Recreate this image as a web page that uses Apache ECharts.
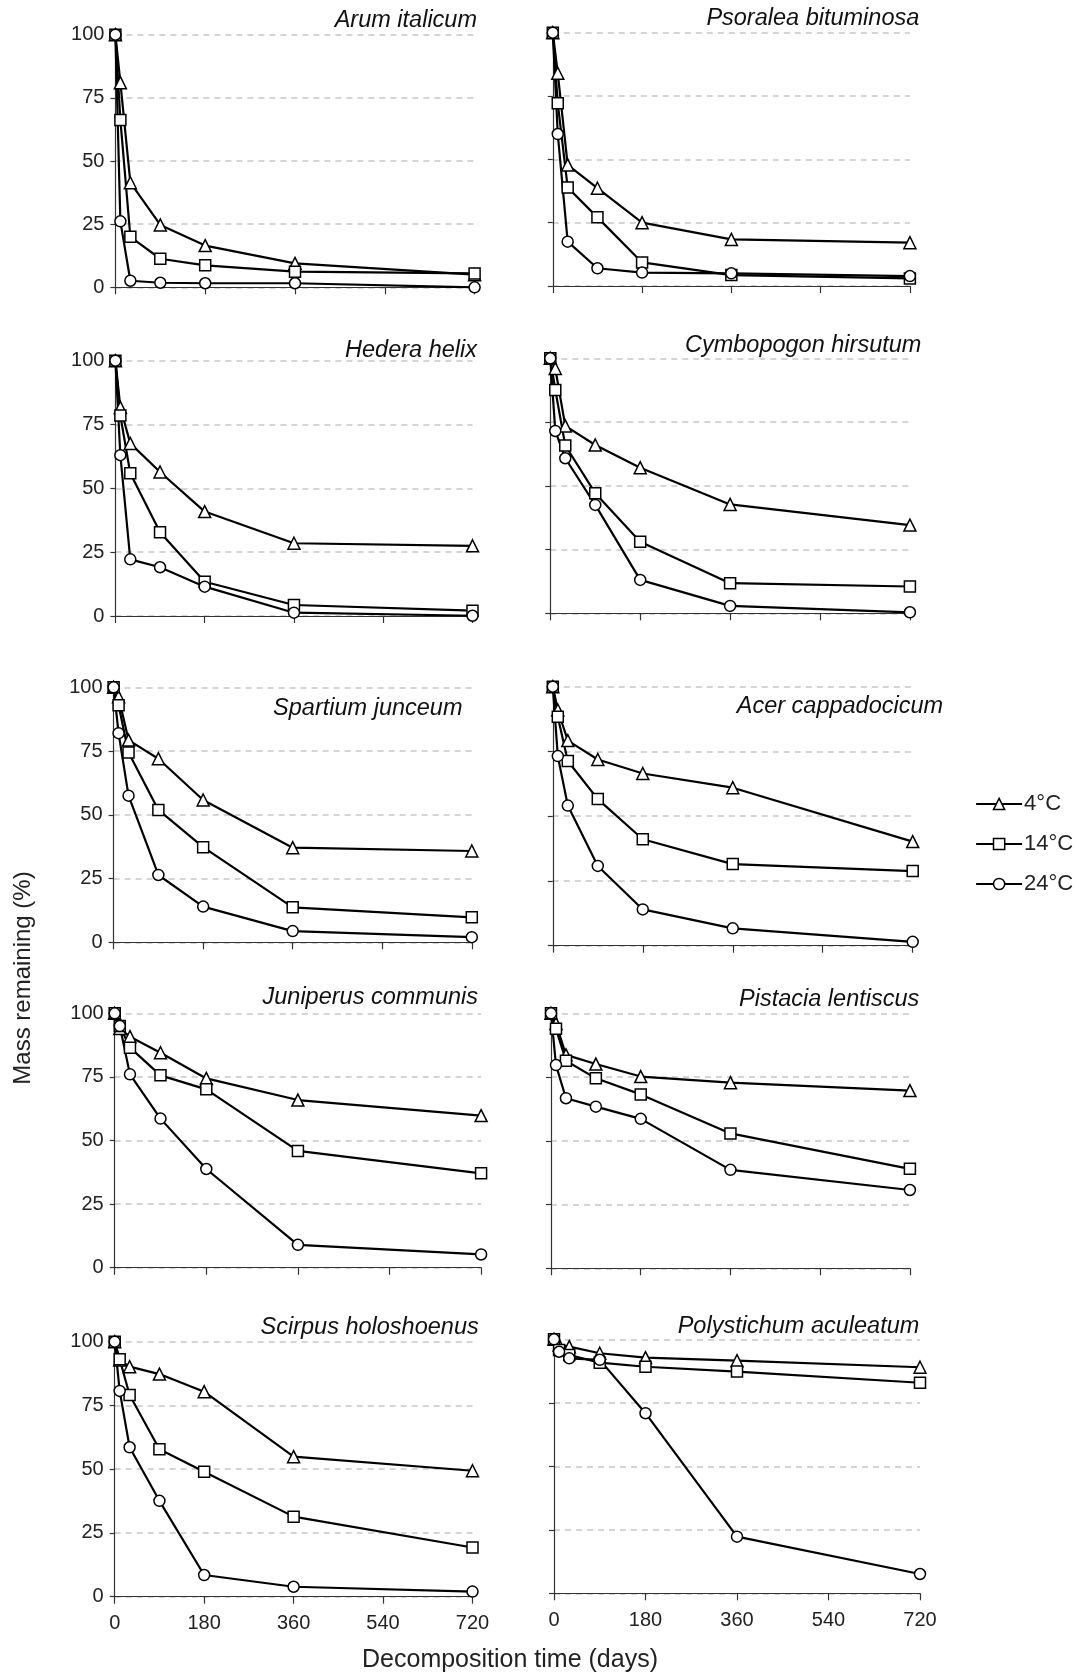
<!DOCTYPE html>
<html>
<head>
<meta charset="utf-8">
<script src="https://cdn.jsdelivr.net/npm/echarts@6/dist/echarts.min.js"></script>
<style>
  html, body { margin: 0; padding: 0; background: #fff; }
  #chart { width: 1079px; height: 1675px; }
</style>
</head>
<body>
<div id="chart"></div>
<script>
// sampling days
const days = [0, 10, 30, 90, 180, 360, 720];
const species = [
  'Arum italicum', 'Psoralea bituminosa',
  'Hedera helix', 'Cymbopogon hirsutum',
  'Spartium junceum', 'Acer cappadocicum',
  'Juniperus communis', 'Pistacia lentiscus',
  'Scirpus holoshoenus', 'Polystichum aculeatum'
];
const temps = ['4°C', '14°C', '24°C'];

// mass remaining (%) — one row per species, same order as above
const mass4C = [
  [100, 81, 41.4, 24.7, 16.5, 9.5, 5],
  [100, 84, 47.8, 38.6, 25, 18.4, 17.1],
  [100, 81.7, 67.6, 56.4, 40.9, 28.5, 27.5],
  [100, 96, 73.5, 66, 57.1, 42.7, 34.6],
  [100, 96.3, 79.3, 72, 55.8, 37.1, 35.8],
  [100, 91, 79.2, 71.9, 66.5, 61, 40.2],
  [100, 94, 90.8, 84.5, 74.4, 65.9, 59.8],
  [100, 96, 83.7, 80.1, 75.2, 72.8, 69.7],
  [100, 92.8, 90.2, 87.3, 80.4, 54.9, 49.4],
  [100, 97.8, 97.1, 94.5, 92.8, 91.6, 89]
];
const mass14C = [
  [100, 66.2, 20, 11.3, 8.7, 6.2, 5.5],
  [100, 72.1, 38.9, 27.1, 9.3, 4.3, 3],
  [100, 78.5, 55.9, 32.8, 13.4, 4.3, 2.1],
  [100, 87.6, 65.8, 47.1, 28.1, 11.8, 10.5],
  [100, 93, 74.4, 51.9, 37.3, 13.7, 9.8],
  [100, 88.4, 71.3, 56.6, 41.1, 31.5, 28.8],
  [100, 95, 86.5, 75.6, 70.1, 45.9, 37.1],
  [100, 93.9, 81.4, 74.5, 68.2, 52.9, 39],
  [100, 93.1, 79.1, 57.8, 49, 31.4, 19.3],
  [100, 95.8, 93.8, 90.8, 89.2, 87.3, 82.9]
];
const mass24C = [
  [100, 26.1, 2.6, 1.8, 1.6, 1.6, 0],
  [100, 60, 17.5, 7, 5.3, 5, 3.9],
  [100, 63, 22.2, 19.1, 11.5, 1.3, 0.1],
  [100, 71.5, 60.8, 42.5, 13.1, 2.9, 0.4],
  [100, 82, 57.5, 26.4, 14, 4.4, 2],
  [100, 73.2, 54.1, 30.8, 14, 6.7, 1.5],
  [100, 95, 76, 58.6, 38.8, 9, 5.2],
  [100, 79.7, 66.7, 63.4, 58.6, 38.6, 30.7],
  [100, 80.7, 58.6, 37.6, 8.5, 3.9, 2],
  [100, 95.1, 92.5, 91.9, 70.9, 22.3, 7.6]
];

// layout of each panel: plot box [left, top, width, height], title [right edge, centre y]
const boxes = [
  [115.4, 34.7, 359.2, 252.6], [552.8, 32.7, 357.1, 253.3],
  [115.4, 360.7, 357.1, 255.3], [550.3, 358.3, 359.6, 255],
  [113.6, 687.3, 358.2, 255], [552.8, 686.7, 359.9, 259],
  [114.7, 1013.3, 366.4, 254.4], [551, 1013.3, 358.9, 255],
  [114.7, 1341.7, 357.8, 255], [554, 1339.3, 366, 254]
];
const titlePos = [
  [477, 20.5], [919.3, 18.5],
  [477, 350], [921.4, 345.5],
  [462.5, 708.5], [943.1, 706.5],
  [478, 997.5], [919.3, 999.5],
  [478.7, 1327.5], [919.3, 1326.5]
];

const FONT = 'Liberation Sans, Arial, sans-serif';
const W = 1079;
const symbols = ['triangle', 'rect', 'circle'];
const allMass = [mass4C, mass14C, mass24C];

const chart = echarts.init(document.getElementById('chart'));

const grid = [], xAxis = [], yAxis = [], title = [], series = [];
boxes.forEach((b, i) => {
  const leftCol = i % 2 === 0;
  const bottomRow = i >= 8;
  grid.push({ left: b[0], top: b[1], width: b[2], height: b[3], containLabel: false });
  xAxis.push({
    gridIndex: i, type: 'value', min: 0, max: 720, interval: 180,
    axisLine: { lineStyle: { color: '#333', width: 1.2 } },
    axisTick: { show: true, length: 7, lineStyle: { color: '#333', width: 1.2 } },
    axisLabel: { show: bottomRow, fontSize: 20, color: '#222', fontFamily: FONT, margin: 17 },
    splitLine: { show: false }
  });
  yAxis.push({
    gridIndex: i, type: 'value', min: 0, max: 100, interval: 25,
    axisLine: { show: true, lineStyle: { color: '#333', width: 1.2 } },
    axisTick: { show: true, length: 5, lineStyle: { color: '#333', width: 1.2 } },
    axisLabel: { show: leftCol, fontSize: 20, color: '#222', fontFamily: FONT, margin: 11 },
    splitLine: { show: true, lineStyle: { color: '#c8c8c8', width: 1.5, type: [6, 5] } }
  });
  title.push({
    text: species[i],
    right: W - titlePos[i][0],
    top: titlePos[i][1] - 14,
    padding: 0,
    textStyle: {
      fontFamily: FONT, fontStyle: 'italic', fontWeight: 'normal',
      fontSize: 23.5, lineHeight: 28, color: '#111'
    }
  });
  temps.forEach((t, k) => {
    series.push({
      name: t,
      type: 'line',
      xAxisIndex: i, yAxisIndex: i,
      data: days.map((d, j) => [d, allMass[k][i][j]]),
      symbol: symbols[k],
      symbolSize: k === 0 ? 12 : 11,
      showAllSymbol: true,
      lineStyle: { color: '#000', width: 2.2 },
      itemStyle: { color: '#fff', borderColor: '#000', borderWidth: 1.5 },
      emphasis: { disabled: true },
      animation: false
    });
  });
});

chart.setOption({
  backgroundColor: '#fff',
  animation: false,
  title,
  grid,
  xAxis,
  yAxis,
  legend: {
    data: temps,
    orient: 'vertical',
    left: 970,
    top: 788,
    itemWidth: 46,
    itemHeight: 14,
    itemGap: 18,
    textStyle: { fontFamily: FONT, fontSize: 22, color: '#222', padding: [0, 0, 0, -3] },
    itemStyle: { color: '#fff', borderColor: '#000', borderWidth: 1.5 },
    lineStyle: { color: '#000', width: 2.2 }
  },
  graphic: [
    {
      type: 'text', x: 23, y: 978, rotation: Math.PI / 2,
      style: {
        text: 'Mass remaining (%)', fontFamily: FONT, fontSize: 24, fill: '#222',
        textAlign: 'center', textVerticalAlign: 'middle'
      }
    },
    {
      type: 'text', x: 510, y: 1660,
      style: {
        text: 'Decomposition time (days)', fontFamily: FONT, fontSize: 25, fill: '#222',
        textAlign: 'center', textVerticalAlign: 'middle'
      }
    }
  ],
  series
});
</script>
</body>
</html>
